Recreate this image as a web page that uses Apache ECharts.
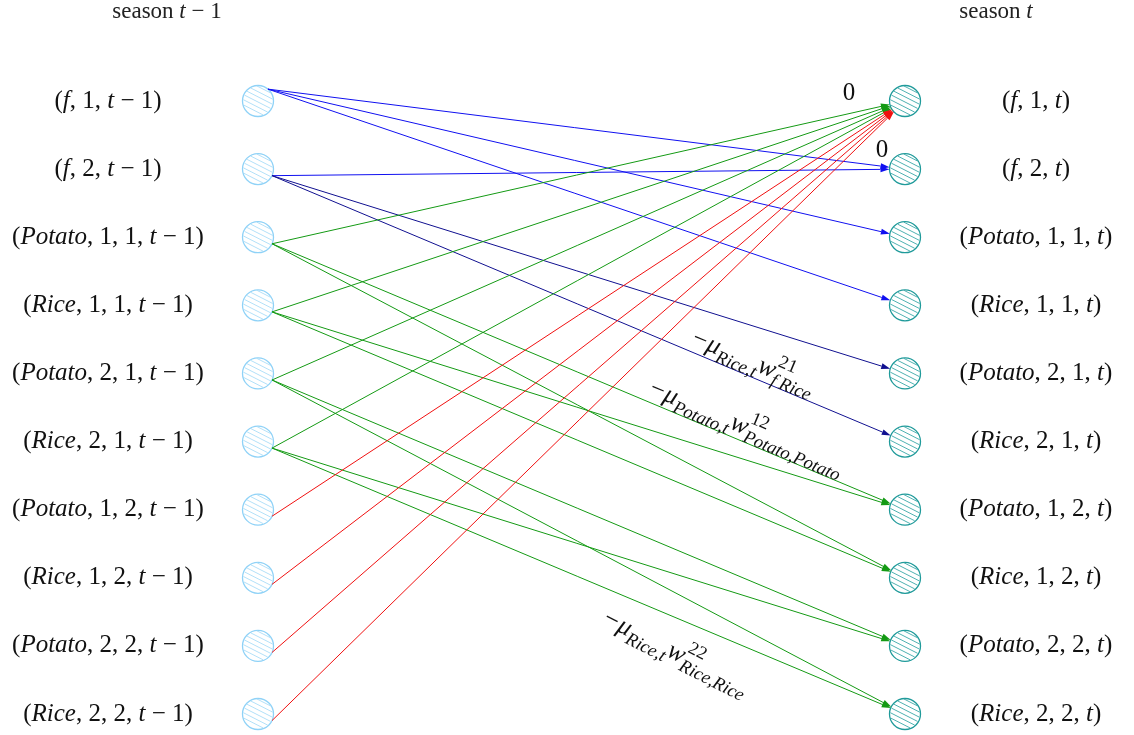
<!DOCTYPE html>
<html><head><meta charset="utf-8">
<script src="https://cdn.jsdelivr.net/npm/echarts@6/dist/echarts.min.js"></script>
<style>html,body{margin:0;padding:0;background:#fff}#c{width:1134px;height:735px}</style>
</head><body><div id="c"></div><script>
// ---------------- data ----------------
const columnTitles = ['season t − 1', 'season t'];
const leftNodes = ['(f, 1, t − 1)', '(f, 2, t − 1)', '(Potato, 1, 1, t − 1)', '(Rice, 1, 1, t − 1)',
  '(Potato, 2, 1, t − 1)', '(Rice, 2, 1, t − 1)', '(Potato, 1, 2, t − 1)', '(Rice, 1, 2, t − 1)',
  '(Potato, 2, 2, t − 1)', '(Rice, 2, 2, t − 1)'];
const rightNodes = ['(f, 1, t)', '(f, 2, t)', '(Potato, 1, 1, t)', '(Rice, 1, 1, t)',
  '(Potato, 2, 1, t)', '(Rice, 2, 1, t)', '(Potato, 1, 2, t)', '(Rice, 1, 2, t)',
  '(Potato, 2, 2, t)', '(Rice, 2, 2, t)'];
// edges: [source row (season t-1), target row (season t)]
const blueEdges  = [[0, 1], [0, 2], [0, 3], [1, 1]];
const navyEdges  = [[1, 4], [1, 5]];
const greenEdges = [[2, 0], [3, 0], [4, 0], [5, 0], [2, 6], [2, 7], [3, 6], [3, 7], [4, 8], [4, 9], [5, 8], [5, 9]];
const redEdges   = [[6, 0], [7, 0], [8, 0], [9, 0]];
// constant labels at target nodes
const zeroNodes = [0, 1];
const zeroText = '0';
// edge annotations (math): parts [text, kind]
const noteEdges = [[1, 5], [2, 6], [5, 9]];
const noteParts = [
  [['−'], ['μ', 'i'], ['Rice,t', 'sub'], ['w', 'i'], ['21', 'sup'], ['f\u2009Rice', 'sub']],
  [['−'], ['μ', 'i'], ['Potato,t', 'sub'], ['w', 'i'], ['12', 'sup'], ['Potato,Potato', 'sub']],
  [['−'], ['μ', 'i'], ['Rice,t', 'sub'], ['w', 'i'], ['22', 'sup'], ['Rice,Rice', 'sub']]
];

// ---------------- style ----------------
const SERIF = '"Liberation Serif", "Times New Roman", serif';
const R = 15.5;
const NODE_STYLE = [
  { stroke: '#8fd2f7', hatch: '#a9dcf7' },
  { stroke: '#1f9a9a', hatch: '#3aa8a8' }
];
const HATCH_ANGLE = 27;
const EDGE_COLORS = { blue: '#1010f0', navy: '#101090', green: '#149a14', red: '#f01010' };
const NOTE_STYLE = [
  { at: 0.672, off: 14, rot: 0 },
  { at: 0.603, off: 14, rot: 0 },
  { at: 0.555, off: -27, rot: 4 }
];
const NOTE_SIZE = { main: 26, script: 18.5, subDy: 9, supDy: -11 };
const LABEL_SIZE = 25;
const ZERO_OFFSET = [[-56, -8], [-23, -19]];

function font(size, it) { return (it ? 'italic ' : '') + size + 'px ' + SERIF; }
function richify(s) { return s.replace(/[A-Za-z]+/g, m => '{i|' + m + '}'); }
const mctx = document.createElement('canvas').getContext('2d');
function tw(t, size, it) { mctx.font = font(size, it); return mctx.measureText(t).width; }

function edgeGeom(api, s, t) {
  const a = api.coord([0, s]), b = api.coord([1, t]);
  const ang = (s === 0 ? -50 : 25) * Math.PI / 180;
  const sx = a[0] + R * Math.cos(ang), sy = a[1] + R * Math.sin(ang);
  let dx = b[0] - sx, dy = b[1] - sy;
  const L = Math.hypot(dx, dy); dx /= L; dy /= L;
  const ex = b[0] - R * dx, ey = b[1] - R * dy;
  return { sx, sy, ex, ey, dx, dy };
}

function nodeSeries() {
  const data = leftNodes.map((_, i) => [0, i]).concat(rightNodes.map((_, i) => [1, i]));
  return {
    type: 'custom', coordinateSystem: 'cartesian2d', z: 2, data,
    renderItem(params, api) {
      const col = api.value(0), row = api.value(1);
      const c = api.coord([col, row]);
      const st = NODE_STYLE[col];
      const children = [{ type: 'circle', shape: { cx: c[0], cy: c[1], r: R },
        style: { fill: '#fff', stroke: st.stroke, lineWidth: 1.3 } }];
      const a = HATCH_ANGLE * Math.PI / 180, ux = Math.cos(a), uy = Math.sin(a), nx = -uy, ny = ux;
      for (let d = -R + 2.6; d < R - 1.5; d += 4.6) {
        const h = Math.sqrt(R * R - d * d) - 0.9;
        children.push({ type: 'line', shape: {
          x1: c[0] + d * nx - h * ux, y1: c[1] + d * ny - h * uy,
          x2: c[0] + d * nx + h * ux, y2: c[1] + d * ny + h * uy },
          style: { stroke: st.hatch, lineWidth: 0.9 } });
      }
      const label = col === 0 ? leftNodes[row] : rightNodes[row];
      children.push({ type: 'text', x: c[0] + (col === 0 ? -150 : 131), y: c[1],
        style: { text: richify(label), font: font(LABEL_SIZE), fill: '#111',
          align: 'center', verticalAlign: 'middle',
          rich: { i: { font: font(LABEL_SIZE, true), fill: '#111' } } } });
      return { type: 'group', children };
    }
  };
}

function edgeSeries(edges, color) {
  return {
    type: 'custom', coordinateSystem: 'cartesian2d', z: 3, data: edges,
    renderItem(params, api) {
      const g = edgeGeom(api, api.value(0), api.value(1));
      const AL = 9, AW = 2.9;
      const bx = g.ex - AL * g.dx, by = g.ey - AL * g.dy;
      const nx = -g.dy, ny = g.dx;
      return { type: 'group', children: [
        { type: 'line', shape: { x1: g.sx, y1: g.sy, x2: bx, y2: by }, style: { stroke: color, lineWidth: 1 } },
        { type: 'polygon', shape: { points: [[g.ex, g.ey], [bx + AW * nx, by + AW * ny], [bx - AW * nx, by - AW * ny]] },
          style: { fill: color } }
      ] };
    }
  };
}

function noteSeries() {
  return {
    type: 'custom', coordinateSystem: 'cartesian2d', z: 4, data: noteEdges,
    renderItem(params, api) {
      const i = params.dataIndex, cfg = NOTE_STYLE[i];
      const g = edgeGeom(api, api.value(0), api.value(1));
      const px = g.sx + (g.ex - g.sx) * cfg.at, py = g.sy + (g.ey - g.sy) * cfg.at;
      const nx = g.dy, ny = -g.dx;
      const ox = px + cfg.off * nx, oy = py + cfg.off * ny;
      const ang = Math.atan2(g.dy, g.dx) + cfg.rot * Math.PI / 180;
      const children = [];
      let x = 0, supX = null, supW = 0;
      noteParts[i].forEach(([t, kind]) => {
        let size = NOTE_SIZE.main, it = kind === 'i', y = 0;
        if (kind === 'sub') { size = NOTE_SIZE.script; it = true; y = NOTE_SIZE.subDy; }
        if (kind === 'sup') { size = NOTE_SIZE.script; it = false; y = NOTE_SIZE.supDy; }
        const w = tw(t, size, it);
        let px0 = x;
        if (kind === 'sup') { supX = x; supW = w; }
        else if (kind === 'sub' && supX !== null) { px0 = supX; x = supX + Math.max(w, supW); supX = null; }
        else { x += w + (t === '−' ? 1 : 0); }
        children.push({ type: 'text', x: px0, y, style: { text: t, font: font(size, it), fill: '#111',
          align: 'left', verticalAlign: 'middle' } });
      });
      return { type: 'group', x: ox, y: oy, rotation: -ang, children };
    }
  };
}

function titleSeries() {
  return {
    type: 'custom', coordinateSystem: 'cartesian2d', z: 4, data: [[0, 0], [1, 0]],
    renderItem(params, api) {
      const col = api.value(0);
      const c = api.coord([col, 0]);
      return { type: 'text', x: c[0] + (col === 0 ? -91 : 91), y: c[1] - 89,
        style: { text: richify(columnTitles[col]).replace('{i|season}', 'season'), font: font(23), fill: '#222',
          align: 'center', verticalAlign: 'middle', rich: { i: { font: font(23, true), fill: '#222' } } } };
    }
  };
}

function zeroSeries() {
  return {
    type: 'custom', coordinateSystem: 'cartesian2d', z: 4, data: zeroNodes.map(r => [1, r]),
    renderItem(params, api) {
      const c = api.coord([1, api.value(1)]);
      const o = ZERO_OFFSET[params.dataIndex];
      return { type: 'text', x: c[0] + o[0], y: c[1] + o[1],
        style: { text: zeroText, font: font(25), fill: '#111', align: 'center', verticalAlign: 'middle' } };
    }
  };
}

const chart = echarts.init(document.getElementById('c'), null, { renderer: 'canvas' });
chart.setOption({
  animation: false,
  grid: { left: 258, right: 229, top: 101, bottom: 21 },
  xAxis: { type: 'value', min: 0, max: 1, show: false },
  yAxis: { type: 'value', min: 0, max: 9, inverse: true, show: false },
  series: [
    nodeSeries(),
    edgeSeries(blueEdges, EDGE_COLORS.blue),
    edgeSeries(navyEdges, EDGE_COLORS.navy),
    edgeSeries(greenEdges, EDGE_COLORS.green),
    edgeSeries(redEdges, EDGE_COLORS.red),
    noteSeries(), titleSeries(), zeroSeries()
  ]
});
</script></body></html>
